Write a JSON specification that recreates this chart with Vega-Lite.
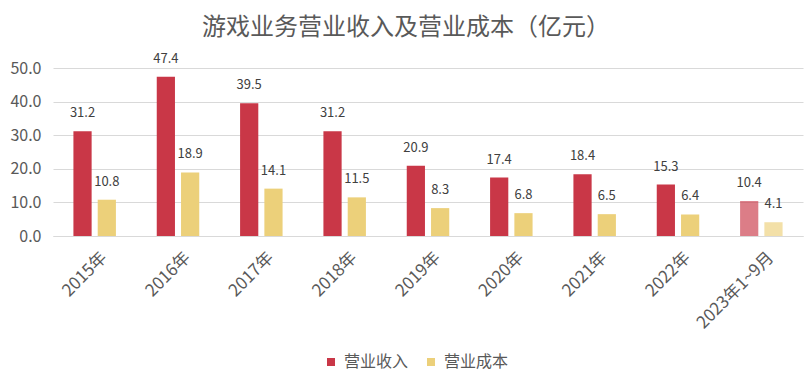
{
  "$schema": "https://vega.github.io/schema/vega-lite/v6.json",
  "width": 750,
  "height": 168,
  "autosize": {"type": "none"},
  "padding": {"left": 53, "top": 68, "right": 9, "bottom": 150},
  "background": "white",
  "config": {
    "font": "Noto Sans CJK SC",
    "view": {"stroke": null}
  },
  "title": {
    "text": "游戏业务营业收入及营业成本（亿元）",
    "fontSize": 24,
    "fontWeight": "normal",
    "color": "#595959",
    "anchor": "middle",
    "dx": -22,
    "offset": 13
  },
  "data": {
    "values": [
      {"year": "2015年", "series": "营业收入", "value": 31.2},
      {"year": "2015年", "series": "营业成本", "value": 10.8},
      {"year": "2016年", "series": "营业收入", "value": 47.4},
      {"year": "2016年", "series": "营业成本", "value": 18.9},
      {"year": "2017年", "series": "营业收入", "value": 39.5},
      {"year": "2017年", "series": "营业成本", "value": 14.1},
      {"year": "2018年", "series": "营业收入", "value": 31.2},
      {"year": "2018年", "series": "营业成本", "value": 11.5},
      {"year": "2019年", "series": "营业收入", "value": 20.9},
      {"year": "2019年", "series": "营业成本", "value": 8.3},
      {"year": "2020年", "series": "营业收入", "value": 17.4},
      {"year": "2020年", "series": "营业成本", "value": 6.8},
      {"year": "2021年", "series": "营业收入", "value": 18.4},
      {"year": "2021年", "series": "营业成本", "value": 6.5},
      {"year": "2022年", "series": "营业收入", "value": 15.3},
      {"year": "2022年", "series": "营业成本", "value": 6.4},
      {"year": "2023年1~9月", "series": "营业收入", "value": 10.4},
      {"year": "2023年1~9月", "series": "营业成本", "value": 4.1}
    ]
  },
  "encoding": {
    "x": {
      "field": "year",
      "type": "nominal",
      "sort": null,
      "scale": {"paddingInner": 0.49, "paddingOuter": 0.245},
      "axis": {
        "title": null,
        "labelAngle": -45,
        "labelFontSize": 17,
        "labelColor": "#595959",
        "ticks": false,
        "domainColor": "#d9d9d9",
        "labelPadding": 13,
        "labelOffset": 4
      }
    },
    "xOffset": {
      "field": "series",
      "type": "nominal",
      "sort": ["营业收入", "营业成本"],
      "scale": {"paddingInner": 0.25}
    },
    "y": {
      "field": "value",
      "type": "quantitative",
      "scale": {"domain": [0, 50]},
      "axis": {
        "title": null,
        "values": [0, 10, 20, 30, 40, 50],
        "format": ".1f",
        "labelFontSize": 16,
        "labelColor": "#595959",
        "gridColor": "#d9d9d9",
        "domain": false,
        "ticks": false,
        "labelPadding": 12
      }
    }
  },
  "layer": [
    {
      "mark": {"type": "bar"},
      "encoding": {
        "color": {
          "field": "series",
          "type": "nominal",
          "scale": {"domain": ["营业收入", "营业成本"], "range": ["#C93747", "#ECD07A"]},
          "legend": {
            "title": null,
            "orient": "none",
            "legendX": 270,
            "legendY": 286,
            "direction": "horizontal",
            "symbolType": "square",
            "symbolSize": 64,
            "symbolStrokeWidth": 0,
            "labelFontSize": 16,
            "labelColor": "#595959",
            "labelOffset": 5,
            "columnPadding": 14
          }
        },
        "opacity": {
          "condition": {"test": "datum.year === '2023年1~9月'", "value": 0.65},
          "value": 1
        }
      }
    },
    {
      "mark": {"type": "text", "baseline": "bottom", "dy": -11, "fontSize": 13, "color": "#404040"},
      "encoding": {
        "text": {"field": "value", "type": "quantitative", "format": ".1f"}
      }
    }
  ]
}
